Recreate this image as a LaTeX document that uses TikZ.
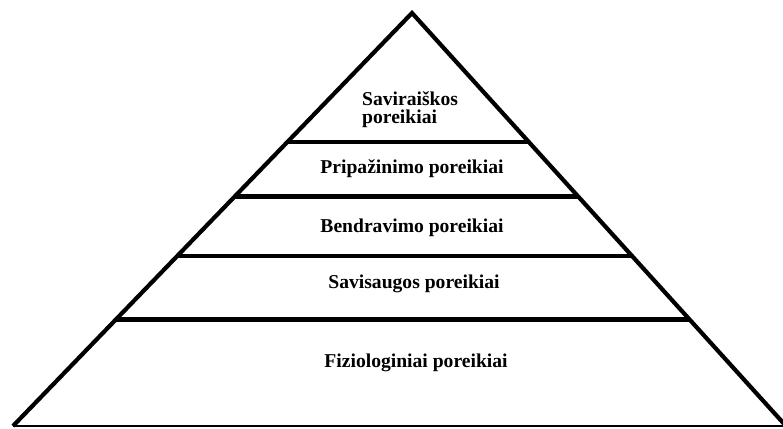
\documentclass[tikz,border=0pt]{standalone}
\usepackage{fontspec}
\setmainfont{Liberation Serif}
\usetikzlibrary{calc}
\begin{document}
\begin{tikzpicture}[x=1pt,y=-1pt,
  side/.style={line width=4.2pt,line join=miter},
  tier/.style={line width=4.2pt},
  ground/.style={line width=1.2pt},
  label/.style={font=\bfseries\fontsize{19.6}{18}\selectfont,inner sep=0pt}]
  \useasboundingbox (0,0) rectangle (783,428);
  % corners of the pyramid
  \coordinate (apex) at (412,13);
  \coordinate (bl) at (13,426);
  \coordinate (br) at (786,426);
  \coordinate (gr) at (783,426);
  % tier boundaries on the left and right sides
  \foreach \n/\y in {1/142,2/196.5,3/256,4/319.5}{
    \coordinate (l\n) at ($(apex)!{(\y-13)/413}!(bl)$);
    \coordinate (r\n) at ($(apex)!{(\y-13)/413}!(br)$);
  }
  % outline
  \draw[ground] (bl) -- (gr);
  \draw[side] (bl) -- (apex) -- (br);
  \foreach \n in {1,...,4}{ \draw[tier] (l\n) -- (r\n); }
  % labels
  \node[label,anchor=base west] (t5a) at (362,105) {Saviraiškos};
  \node[label,anchor=base west] (t5b) at (362,123.5) {poreikiai};
  \node[label,anchor=base] (t4) at (412,173) {Pripažinimo poreikiai};
  \node[label,anchor=base] (t3) at (412,232) {Bendravimo poreikiai};
  \node[label,anchor=base] (t2) at (414,288) {Savisaugos poreikiai};
  \node[label,anchor=base] (t1) at (416,367) {Fiziologiniai poreikiai};
\end{tikzpicture}
\end{document}
